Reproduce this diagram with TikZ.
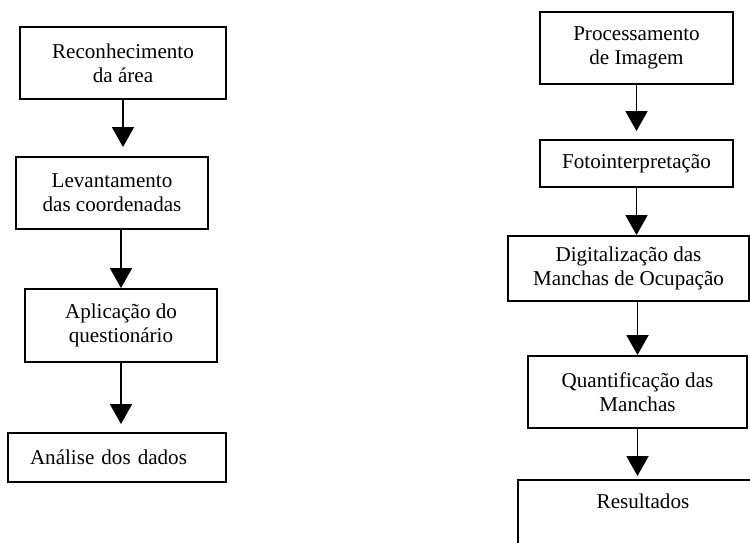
\documentclass[tikz,border=0pt]{standalone}
\usepackage{fontspec}
\setmainfont{Liberation Serif}
\usetikzlibrary{arrows.meta}

\begin{document}
\begin{tikzpicture}[
  box/.style={draw,line width=1.1pt,align=center,inner sep=2pt,
    font=\fontsize{12}{13.5}\selectfont},
  arr/.style={-{Triangle[length=0.4cm,width=0.44cm]},line width=1.1pt}]
  \path[use as bounding box,clip] (0,0) rectangle (15,10.84);

  % Left column
  \node[box,minimum width=4.12cm,minimum height=1.44cm] (rec) at (2.46,9.58)
    {Reconhecimento\\da área};
  \node[box,minimum width=3.84cm,minimum height=1.44cm] (lev) at (2.24,6.98)
    {Levantamento\\das coordenadas};
  \node[box,minimum width=3.84cm,minimum height=1.46cm] (apl) at (2.42,4.33)
    {Aplicação do\\questionário};
  \node[box,align=left,inner xsep=0.44cm,text width=3.48cm,
    minimum height=0.98cm] (ana) at (2.34,1.69) {Análise dos dados};

  \draw[arr,shorten >=0.18cm] (rec.south) -- (rec.south |- lev.north);
  \draw[arr] (apl.north |- lev.south) -- (apl.north);
  \draw[arr,shorten >=0.16cm] (apl.south) -- (apl.south |- ana.north);

  % Right column
  \node[box,minimum width=3.86cm,minimum height=1.44cm] (pro) at (12.73,9.88)
    {Processamento\\de Imagem};
  \node[box,minimum width=3.86cm,minimum height=0.94cm] (foto) at (12.73,7.57)
    {Fotointerpretação};
  \node[box,minimum width=4.82cm,minimum height=1.30cm] (dig) at (12.57,5.47)
    {Digitalização das\\Manchas de Ocupação};
  \node[box,minimum width=4.38cm,minimum height=1.44cm] (quant) at (12.75,3.00)
    {Quantificação das\\Manchas};
  \node[box,anchor=north west,minimum width=5cm,minimum height=1.6cm,
    label={[anchor=north,inner sep=0pt,yshift=-0.3cm,
      font=\fontsize{12}{13.5}\selectfont]north:Resultados}]
    (res) at (10.34,1.26) {};

  \draw[arr,shorten >=0.16cm] (pro.south) -- (foto.north);
  \draw[arr] (foto.south) -- (foto.south |- dig.north);
  \draw[arr] (quant.north |- dig.south) -- (quant.north);
  \draw[arr,shorten >=0.06cm] (quant.south) -- (quant.south |- res.north);
\end{tikzpicture}
\end{document}
